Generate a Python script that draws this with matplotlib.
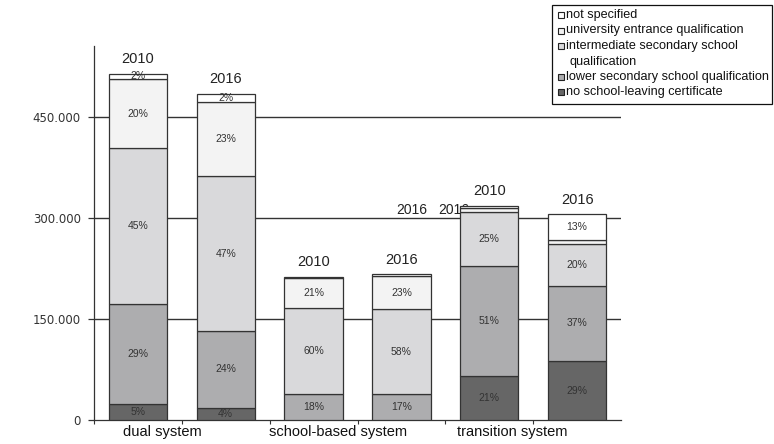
import matplotlib
matplotlib.use("Agg")
import matplotlib.pyplot as plt
from matplotlib.patches import Rectangle

plt.rcParams['font.family'] = ['Liberation Sans', 'DejaVu Sans']

# ---------------- data (thousands of persons) ----------------
bar_years = ["2010", "2016", "2010", "2016", "2010", "2016"]
groups = ["dual system", "school-based system", "transition system"]
series = ["no school-leaving certificate",
          "lower secondary school qualification",
          "intermediate secondary school\nqualification",
          "university entrance qualification",
          "not specified"]
no_cert      = [24.0, 17.5, 0.5, 0.5, 65.5, 87.5]
lower_sec    = [148.0, 115.0, 37.5, 37.5, 163.0, 112.0]
intermediate = [231.0, 229.0, 128.0, 126.0, 80.0, 61.0]
university   = [103.0, 110.5, 44.0, 50.0, 6.5, 6.5]
not_spec     = [8.0, 12.0, 2.5, 2.0, 3.0, 38.5]

# displayed percentage labels (None = no label)
lbl_no_cert = ["5%", "4%", None, None, "21%", "29%"]
lbl_lower   = ["29%", "24%", "18%", "17%", "51%", "37%"]
lbl_inter   = ["45%", "47%", "60%", "58%", "25%", "20%"]
lbl_univ    = ["20%", "23%", "21%", "23%", None, None]
lbl_ns      = ["2%", "2%", None, None, None, "13%"]

yticks = [0, 150, 300, 450]
ytick_labels = ["0", "150.000", "300.000", "450.000"]

colors = ["#666666", "#adadaf", "#d9d9db", "#f3f3f3", "#ffffff"]
edge = "#333333"

# ---------------- figure ----------------
W, H = 774, 444
fig = plt.figure(figsize=(W / 100, H / 100), dpi=100)
ax = fig.add_axes([94 / W, 24 / H, 527 / W, 374 / H])

x = list(range(len(bar_years)))
stack = [no_cert, lower_sec, intermediate, university, not_spec]
labels = [lbl_no_cert, lbl_lower, lbl_inter, lbl_univ, lbl_ns]
bottom = [0.0] * len(x)
for vals, col, lbls, name in zip(stack, colors, labels, series):
    ax.bar(x, vals, width=0.666, bottom=bottom, color=col,
           edgecolor=edge, linewidth=0.9, zorder=3, label=name)
    for xi, b, v, t in zip(x, bottom, vals, lbls):
        if t:
            ax.text(xi, b + v / 2, t, ha='center', va='center',
                    fontsize=7.5, color='#333333', zorder=4)
    bottom = [b + v for b, v in zip(bottom, vals)]

for xi, tot, yr in zip(x, bottom, bar_years):
    ax.annotate(yr, (xi, tot), xytext=(0, 10.5), textcoords='offset points',
                ha='center', va='center', fontsize=10.5, color='#222222',
                zorder=4)

# stray year labels seen in the original (second one partly hidden by a bar)
ax.text(3.12, 311, "2016", ha='center', va='center', fontsize=10,
        color='#222222', zorder=1)
ax.text(3.60, 311, "2016", ha='center', va='center', fontsize=10,
        color='#222222', zorder=1)

ax.set_xlim(-0.5, 5.5)
ax.set_ylim(0, 555)
ax.set_yticks(yticks)
ax.set_yticklabels(ytick_labels, family=['DejaVu Sans'])
for y in yticks[1:]:
    ax.axhline(y, color='#333333', linewidth=1.0, zorder=1)

ax.set_xticks([-0.5, 0.5, 1.5, 2.5, 3.5, 4.5])
ax.set_xticklabels([])
ax.tick_params(axis='x', length=3, width=0.8, color='#333333')
ax.tick_params(axis='y', length=4.5, width=0.9, color='#333333',
               labelsize=8.5, labelcolor='#333333', pad=5)
for s in ['top', 'right']:
    ax.spines[s].set_visible(False)
for s in ['left', 'bottom']:
    ax.spines[s].set_color('#333333')
    ax.spines[s].set_linewidth(0.9)

for gx, g in zip([0.28, 2.28, 4.26], groups):
    ax.text(gx, -8, g, ha='center', va='top', fontsize=10.5,
            color='#111111', clip_on=False)

# ---------------- legend (manual) ----------------
def fx(px):
    return px / W

def fy(py):
    return 1 - py / H

fig.patches.append(Rectangle((fx(552), fy(104)), fx(772) - fx(552),
                             fy(5) - fy(104), transform=fig.transFigure,
                             fill=False, edgecolor='#111111', linewidth=0.9))
leg_rows = [(15, 4, "not specified", False),
            (30.5, 3, "university entrance qualification", False),
            (46, 2, "intermediate secondary school", False),
            (61.5, None, "qualification", True),
            (77, 1, "lower secondary school qualification", False),
            (92, 0, "no school-leaving certificate", False)]
for py, ci, txt, indent in leg_rows:
    if ci is not None:
        fig.patches.append(Rectangle((fx(558), fy(py + 3)), fx(6), 6 / H,
                                     transform=fig.transFigure,
                                     facecolor=colors[ci], edgecolor='#222222',
                                     linewidth=0.8))
    fig.text(fx(570 if indent else 566), fy(py), txt, ha='left',
             va='center', fontsize=9.1, color='#111111')

fig.savefig("out.png", dpi=100)
